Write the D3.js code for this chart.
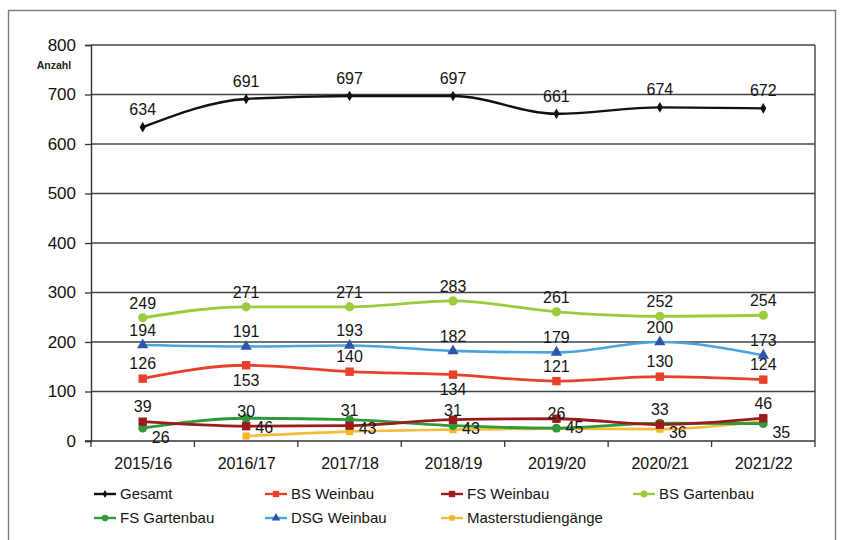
<!DOCTYPE html>
<html>
<head>
<meta charset="utf-8">
<script src="https://cdn.jsdelivr.net/npm/d3@7"></script>
<style>
  html, body { margin: 0; padding: 0; background: #fff; }
  svg { display: block; font-family: "Liberation Sans", Arial, sans-serif; }
</style>
</head>
<body>
<svg id="chart" width="843" height="540"></svg>
<script>
// Studienjahre
const categories = ["2015/16", "2016/17", "2017/18", "2018/19", "2019/20", "2020/21", "2021/22"];

// Anzahl Studierende je Studiengang
const gesamt        = [634, 691, 697, 697, 661, 674, 672];
const bsWeinbau     = [126, 153, 140, 134, 121, 130, 124];
const fsWeinbau     = [39, 30, 31, 43, 45, 33, 46];
const bsGartenbau   = [249, 271, 271, 283, 261, 252, 254];
const fsGartenbau   = [26, 46, 43, 31, 26, 36, 35];
const dsgWeinbau    = [194, 191, 193, 182, 179, 200, 173];
const master        = [null, 10, 19, 23, 25, 24, 40];

// Achsenbeschriftung
const yTicks = [0, 100, 200, 300, 400, 500, 600, 700, 800];
const yUnit = "Anzahl";

// Lage der Datenbeschriftungen je Punkt (A = oben, B = unten, R = rechts unten, N = keine)
const pos = {
  gesamt:      ["A", "A", "A", "A", "A", "A", "A"],
  bsWeinbau:   ["A", "B", "A", "B", "A", "A", "A"],
  fsWeinbau:   ["A", "A", "A", "R", "R", "A", "A"],
  bsGartenbau: ["A", "A", "A", "A", "A", "A", "A"],
  fsGartenbau: ["R", "R", "R", "A", "A", "R", "R"],
  dsgWeinbau:  ["A", "A", "A", "A", "A", "A", "A"],
  master:      ["N", "N", "N", "N", "N", "N", "N"]
};

const series = [
  { name: "Gesamt",             key: "gesamt",      values: gesamt,      line: "#111111", fill: "#111111", shape: "diamond", r: 4.5, w: 2.4 },
  { name: "BS Weinbau",         key: "bsWeinbau",   values: bsWeinbau,   line: "#e8402a", fill: "#e8402a", shape: "square",  r: 4.2, w: 2.8 },
  { name: "FS Weinbau",         key: "fsWeinbau",   values: fsWeinbau,   line: "#9a1b1d", fill: "#9a1b1d", shape: "square",  r: 4.2, w: 2.8 },
  { name: "BS Gartenbau",       key: "bsGartenbau", values: bsGartenbau, line: "#9ccb3d", fill: "#9ccb3d", shape: "circle",  r: 4.6, w: 2.8 },
  { name: "FS Gartenbau",       key: "fsGartenbau", values: fsGartenbau, line: "#2f9a3b", fill: "#2f9a3b", shape: "circle",  r: 4.4, w: 2.8 },
  { name: "DSG Weinbau",        key: "dsgWeinbau",  values: dsgWeinbau,  line: "#4aa5dd", fill: "#2f55a8", shape: "triangle",r: 4.8, w: 2.6 },
  { name: "Masterstudiengänge", key: "master",      values: master,      line: "#f2bd3a", fill: "#f2b52c", shape: "square",  r: 3.6, w: 2.6 }
];

const svg = d3.select("#chart");

// Rahmen
svg.append("rect")
  .attr("x", 8.5).attr("y", 10.5).attr("width", 827).attr("height", 540)
  .attr("fill", "#fff").attr("stroke", "#7a7a7a").attr("stroke-width", 1.4);

const plot = { left: 91, right: 815, top: 45, bottom: 441 };

const x = d3.scalePoint().domain(categories).range([plot.left, plot.right]).padding(0.5);
const xBand = d3.scaleBand().domain(categories).range([plot.left, plot.right]);
const y = d3.scaleLinear().domain([0, 800]).range([plot.bottom, plot.top]);

// Gitternetz
svg.append("g").selectAll("line").data(yTicks.filter(v => v > 0)).join("line")
  .attr("x1", plot.left).attr("x2", plot.right)
  .attr("y1", d => y(d)).attr("y2", d => y(d))
  .attr("stroke", "#444").attr("stroke-width", 1.4);

svg.append("line")
  .attr("x1", plot.right).attr("x2", plot.right).attr("y1", plot.top).attr("y2", plot.bottom)
  .attr("stroke", "#444").attr("stroke-width", 1.4);

// Y-Achse
const yAxis = svg.append("g")
  .attr("transform", `translate(${plot.left},0)`)
  .call(d3.axisLeft(y).tickValues(yTicks).tickSize(6).tickPadding(9));
yAxis.select(".domain").attr("stroke", "#333").attr("stroke-width", 1.4);
yAxis.selectAll(".tick line").attr("stroke", "#333").attr("stroke-width", 1.3);
yAxis.selectAll(".tick text").attr("font-size", 17).attr("fill", "#111")
  .attr("font-family", "Liberation Sans, Arial, sans-serif");

svg.append("text")
  .attr("x", 54).attr("y", 69).attr("text-anchor", "middle")
  .attr("font-size", 10.5).attr("font-weight", "bold").attr("fill", "#222")
  .text(yUnit);

// X-Achse
const xAxis = svg.append("g")
  .attr("transform", `translate(0,${plot.bottom})`)
  .call(d3.axisBottom(x).tickSize(0).tickPadding(17));
xAxis.select(".domain").remove();
xAxis.selectAll(".tick text").attr("font-size", 16).attr("fill", "#111")
  .attr("font-family", "Liberation Sans, Arial, sans-serif");

svg.append("line")
  .attr("x1", plot.left - 6).attr("x2", plot.right).attr("y1", plot.bottom).attr("y2", plot.bottom)
  .attr("stroke", "#333").attr("stroke-width", 1.4);

const boundaries = categories.map(c => xBand(c)).concat([plot.right]);
svg.append("g").selectAll("line").data(boundaries).join("line")
  .attr("x1", d => d).attr("x2", d => d)
  .attr("y1", plot.bottom).attr("y2", plot.bottom + 6)
  .attr("stroke", "#333").attr("stroke-width", 1.3);

// Markerformen
function symbolPath(shape, r) {
  const types = { diamond: d3.symbolDiamond, square: d3.symbolSquare, circle: d3.symbolCircle, triangle: d3.symbolTriangle };
  const size = shape === "square" ? (2 * r) * (2 * r)
             : shape === "circle" ? Math.PI * r * r
             : shape === "triangle" ? r * r * 2.4
             : r * r * 1.6;
  return d3.symbol().type(types[shape]).size(size)();
}

// Linien und Punkte, Reihenfolge: kleine Reihen zuletzt oben
const drawOrder = ["gesamt", "bsGartenbau", "dsgWeinbau", "bsWeinbau", "master", "fsGartenbau", "fsWeinbau"];
const lineGen = d3.line()
  .defined(d => d.v !== null)
  .x(d => x(d.c)).y(d => y(d.v))
  .curve(d3.curveMonotoneX);

drawOrder.forEach(k => {
  const s = series.find(t => t.key === k);
  const pts = categories.map((c, i) => ({ c, v: s.values[i], p: pos[k][i] }));
  const g = svg.append("g");
  g.append("path").datum(pts)
    .attr("d", lineGen).attr("fill", "none")
    .attr("stroke", s.line).attr("stroke-width", s.w)
    .attr("stroke-linejoin", "round").attr("stroke-linecap", "round");
  g.selectAll("path.m").data(pts.filter(d => d.v !== null)).join("path")
    .attr("class", "m")
    .attr("d", symbolPath(s.shape, s.r))
    .attr("transform", d => `translate(${x(d.c)},${y(d.v)})`)
    .attr("fill", s.fill);
});

// Datenbeschriftungen
series.forEach(s => {
  const pts = categories.map((c, i) => ({ c, v: s.values[i], p: pos[s.key][i] }))
    .filter(d => d.v !== null && d.p !== "N");
  svg.append("g").selectAll("text").data(pts).join("text")
    .attr("x", d => x(d.c) + (d.p === "R" ? 18 : 0))
    .attr("y", d => y(d.v) + (d.p === "A" ? (s.key === "gesamt" ? -18 : -15) : d.p === "B" ? 15 : 9))
    .attr("dy", "0.36em")
    .attr("text-anchor", "middle")
    .attr("font-size", 16).attr("fill", "#151515")
    .text(d => d.v);
});

// Legende
const legendCols = [94, 265, 441, 633];
const legendRows = [494, 518];
const legend = svg.append("g");
series.forEach((s, i) => {
  const lx = legendCols[i % 4];
  const ly = legendRows[Math.floor(i / 4)];
  legend.append("line")
    .attr("x1", lx).attr("x2", lx + 22).attr("y1", ly).attr("y2", ly)
    .attr("stroke", s.line).attr("stroke-width", 2.4);
  legend.append("path")
    .attr("d", symbolPath(s.shape, s.r * 0.75))
    .attr("transform", `translate(${lx + 11},${ly})`)
    .attr("fill", s.fill);
  legend.append("text")
    .attr("x", lx + 26).attr("y", ly).attr("dy", "0.36em")
    .attr("font-size", 15).attr("fill", "#151515")
    .text(s.name);
});
</script>
</body>
</html>
